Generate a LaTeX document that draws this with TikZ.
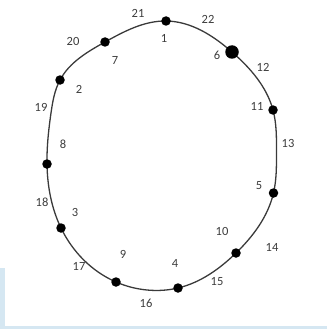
\documentclass[tikz,border=0pt]{standalone}
\usepackage{fontspec}
\usetikzlibrary{hobby}
\setmainfont{Carlito}
\definecolor{paleblue}{HTML}{D5E7F2}
\definecolor{labelgray}{HTML}{3C3C3C}
\definecolor{linegray}{HTML}{3A3A3A}
\begin{document}
\begin{tikzpicture}[x=1pt,y=-1pt,
  dot/.style={circle,fill=black,inner sep=0pt,minimum size=9.5pt},
  bigdot/.style={dot,minimum size=13.5pt},
  lbl/.style={text=labelgray,font=\fontsize{12.5}{14}\selectfont,inner sep=0pt}]
\useasboundingbox (0,0) rectangle (327,329);
\fill[paleblue] (0,268) rectangle (5,329);
\fill[paleblue] (0,326) rectangle (327,329);
% points on the ring
\coordinate (c1) at (166,21);
\coordinate (c6) at (232,52);
\coordinate (c11) at (273,110);
\coordinate (cR) at (276.5,152);
\coordinate (c5) at (273.5,193);
\coordinate (c10) at (236,253);
\coordinate (c4) at (178,288);
\coordinate (cB) at (147,290);
\coordinate (c9) at (116,282);
\coordinate (c3) at (61,228);
\coordinate (c8) at (47,164);
\coordinate (cL) at (51,113);
\coordinate (c2) at (60,80);
\coordinate (c7) at (105,42);
% ring
\draw[linegray,line width=1.3pt,use Hobby shortcut,closed=true]
  (c1) .. (c6) .. (c11) .. (cR) .. (c5) .. (c10) .. (c4) .. (cB) .. (c9)
  .. (c3) .. (c8) .. (cL) .. (c2) .. (c7);
% dots
\node[dot] (d1) at (c1) {};
\node[bigdot] (d6) at (c6) {};
\node[dot] (d11) at (c11) {};
\node[dot] (d5) at (c5) {};
\node[dot] (d10) at (c10) {};
\node[dot] (d4) at (c4) {};
\node[dot] (d9) at (c9) {};
\node[dot] (d3) at (c3) {};
\node[dot] (d8) at (c8) {};
\node[dot] (d2) at (c2) {};
\node[dot] (d7) at (c7) {};
% labels
\node[lbl] (l21) at (138,13) {21};
\node[lbl] (l22) at (208,19) {22};
\node[lbl] (l1) at (164,38) {1};
\node[lbl] (l20) at (73,41) {20};
\node[lbl] (l7) at (115,60) {7};
\node[lbl] (l6) at (217,55) {6};
\node[lbl] (l12) at (263,67) {12};
\node[lbl] (l2) at (79,89) {2};
\node[lbl] (l19) at (41,107) {19};
\node[lbl] (l11) at (257,106) {11};
\node[lbl] (l8) at (63,144) {8};
\node[lbl] (l13) at (288,143) {13};
\node[lbl] (l5) at (259,186) {5};
\node[lbl] (l18) at (42,202) {18};
\node[lbl] (l3) at (75,212) {3};
\node[lbl] (l10) at (222,231) {10};
\node[lbl] (l14) at (272,247) {14};
\node[lbl] (l9) at (123,254) {9};
\node[lbl] (l17) at (79,266) {17};
\node[lbl] (l4) at (175,263) {4};
\node[lbl] (l15) at (217,282) {15};
\node[lbl] (l16) at (146,303) {16};
\end{tikzpicture}
\end{document}
